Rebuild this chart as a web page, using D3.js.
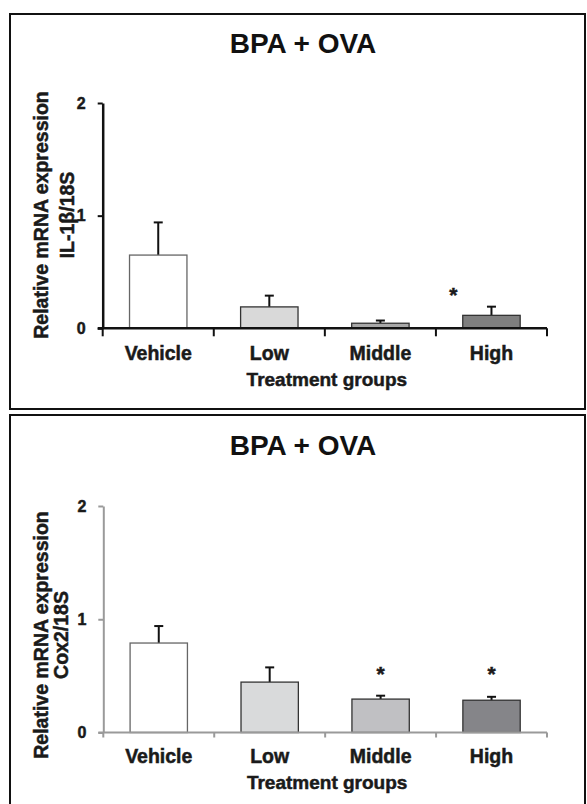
<!DOCTYPE html>
<html>
<head>
<meta charset="utf-8">
<script src="https://cdn.jsdelivr.net/npm/d3@7"></script>
<style>
  html, body { margin: 0; padding: 0; background: #fff; }
  svg { display: block; font-family: "Liberation Sans", Arial, sans-serif; }
</style>
</head>
<body>
<div id="chart"></div>
<script>
// values
var categories = ["Vehicle", "Low", "Middle", "High"];
var yTicks = [0, 1, 2];

var il1bMeans  = [0.65, 0.19, 0.045, 0.115];
var il1bErrors = [0.29, 0.10, 0.024, 0.077];
var il1bSig    = ["", "", "", "*"];

var cox2Means  = [0.79, 0.445, 0.295, 0.285];
var cox2Errors = [0.15, 0.13, 0.03, 0.03];
var cox2Sig    = ["", "", "*", "*"];

var titleText = "BPA + OVA";
var yLabel1 = "Relative mRNA expression";
var xLabel = "Treatment groups";

var svg = d3.select("#chart").append("svg")
  .attr("width", 587)
  .attr("height", 804);

var panels = [
  {
    means: il1bMeans, errors: il1bErrors, sig: il1bSig, yLabel2: "IL-1\u03b2/18S",
    box: [10, 14, 575, 395], titleY: 53,
    yBottom: 328.3, yTop: 103, xLeft: 102.7, xRight: 547,
    axisColor: "#111", axisWidth: 2.5, tickLen: 8,
    fills: ["#ffffff", "#d9d9d9", "#a8a8a8", "#7f7f7f"],
    label1X: 48, label2X: 74, labelCy: 215,
    starLevel: 0.33, starDx: -38,
    catDy: 32, xTitleDy: 58
  },
  {
    means: cox2Means, errors: cox2Errors, sig: cox2Sig, yLabel2: "Cox2/18S",
    box: [10, 415, 575, 400], titleY: 455,
    yBottom: 732.5, yTop: 506, xLeft: 103.3, xRight: 547,
    axisColor: "#9a9a9a", axisWidth: 2, tickLen: 5,
    fills: ["#ffffff", "#d9dadb", "#c0c0c3", "#858589"],
    label1X: 48, label2X: 68, labelCy: 635,
    starLevel: 0.555, starDx: 0,
    catDy: 30, xTitleDy: 56.5
  }
];

panels.forEach(drawPanel);

// heavy bold text like the scanned figure
function heavy(sel, size) {
  return sel
    .style("font-size", size + "px")
    .style("font-weight", "bold")
    .style("fill", "#1a1a1a")
    .style("stroke", "#1a1a1a")
    .style("stroke-width", 0.5);
}

function drawPanel(p) {
  var g = svg.append("g");

  // frame
  g.append("rect")
    .attr("x", p.box[0]).attr("y", p.box[1])
    .attr("width", p.box[2]).attr("height", p.box[3])
    .style("fill", "none")
    .style("stroke", "#111")
    .style("stroke-width", 2);

  g.append("text")
    .attr("x", 303).attr("y", p.titleY)
    .attr("text-anchor", "middle")
    .style("font-size", "28px")
    .style("font-weight", "bold")
    .style("fill", "#111")
    .text(titleText);

  var x = d3.scaleBand()
    .domain(categories)
    .range([p.xLeft, p.xRight])
    .padding(0);

  var y = d3.scaleLinear()
    .domain([0, 2])
    .range([p.yBottom, p.yTop]);

  var data = categories.map(function(c, i) {
    return { cat: c, mean: p.means[i], err: p.errors[i], sig: p.sig[i], fill: p.fills[i] };
  });

  var barW = x.bandwidth() * 0.517;

  // error bars
  var eb = g.selectAll(".err").data(data).enter().append("g");
  eb.append("line")
    .attr("x1", function(d){ return x(d.cat) + x.bandwidth() / 2; })
    .attr("x2", function(d){ return x(d.cat) + x.bandwidth() / 2; })
    .attr("y1", function(d){ return y(d.mean); })
    .attr("y2", function(d){ return y(d.mean + d.err); })
    .style("stroke", "#111").style("stroke-width", 2);
  eb.append("line")
    .attr("x1", function(d){ return x(d.cat) + x.bandwidth() / 2 - 4.5; })
    .attr("x2", function(d){ return x(d.cat) + x.bandwidth() / 2 + 4.5; })
    .attr("y1", function(d){ return y(d.mean + d.err); })
    .attr("y2", function(d){ return y(d.mean + d.err); })
    .style("stroke", "#111").style("stroke-width", 2);

  g.selectAll(".bar").data(data).enter().append("rect")
    .attr("x", function(d){ return x(d.cat) + (x.bandwidth() - barW) / 2; })
    .attr("y", function(d){ return y(d.mean); })
    .attr("width", barW)
    .attr("height", function(d){ return y(0) - y(d.mean); })
    .style("fill", function(d){ return d.fill; })
    .style("stroke", function(d, i){ return i === 0 ? "#666" : "#333"; })
    .style("stroke-width", 1.3);

  // significance stars
  g.selectAll(".star").data(data.filter(function(d){ return d.sig; })).enter().append("text")
    .attr("x", function(d){ return x(d.cat) + x.bandwidth() / 2 + p.starDx; })
    .attr("y", y(p.starLevel) + 11)
    .attr("text-anchor", "middle")
    .call(heavy, 21)
    .text(function(d){ return d.sig; });

  // y axis
  var yAxis = g.append("g")
    .attr("transform", "translate(" + p.xLeft + ",0)")
    .call(d3.axisLeft(y).tickValues(yTicks).tickFormat(d3.format("d")).tickSize(5).tickSizeOuter(0).tickPadding(12));
  yAxis.select(".domain").style("stroke", p.axisColor).style("stroke-width", p.axisWidth);
  yAxis.selectAll(".tick line").style("stroke", p.axisColor).style("stroke-width", 2);
  yAxis.selectAll(".tick text")
    .call(heavy, 16)
    .style("font-family", "'Liberation Sans', Arial, sans-serif");

  // x axis line with ticks at band boundaries
  g.append("line")
    .attr("x1", p.xLeft - 5).attr("x2", p.xRight)
    .attr("y1", y(0)).attr("y2", y(0))
    .style("stroke", p.axisColor).style("stroke-width", p.axisWidth);
  var bounds = categories.map(function(c){ return x(c); }).concat([x.range()[1]]);
  g.selectAll(".xtick").data(bounds).enter().append("line")
    .attr("x1", function(d){ return d; }).attr("x2", function(d){ return d; })
    .attr("y1", y(0)).attr("y2", y(0) + p.tickLen)
    .style("stroke", p.axisColor).style("stroke-width", 2);

  g.selectAll(".cat").data(categories).enter().append("text")
    .attr("x", function(d){ return x(d) + x.bandwidth() / 2; })
    .attr("y", y(0) + p.catDy)
    .attr("text-anchor", "middle")
    .call(heavy, 19.5)
    .text(function(d){ return d; });

  g.append("text")
    .attr("x", (p.xLeft + p.xRight) / 2 + 2)
    .attr("y", y(0) + p.xTitleDy)
    .attr("text-anchor", "middle")
    .call(heavy, 19)
    .text(xLabel);

  // rotated y labels
  [[yLabel1, p.label1X], [p.yLabel2, p.label2X]].forEach(function(l) {
    g.append("text")
      .attr("x", l[1]).attr("y", p.labelCy)
      .attr("transform", "rotate(-90," + l[1] + "," + p.labelCy + ")")
      .attr("text-anchor", "middle")
      .call(heavy, 19.5)
      .text(l[0]);
  });
}
</script>
</body>
</html>
